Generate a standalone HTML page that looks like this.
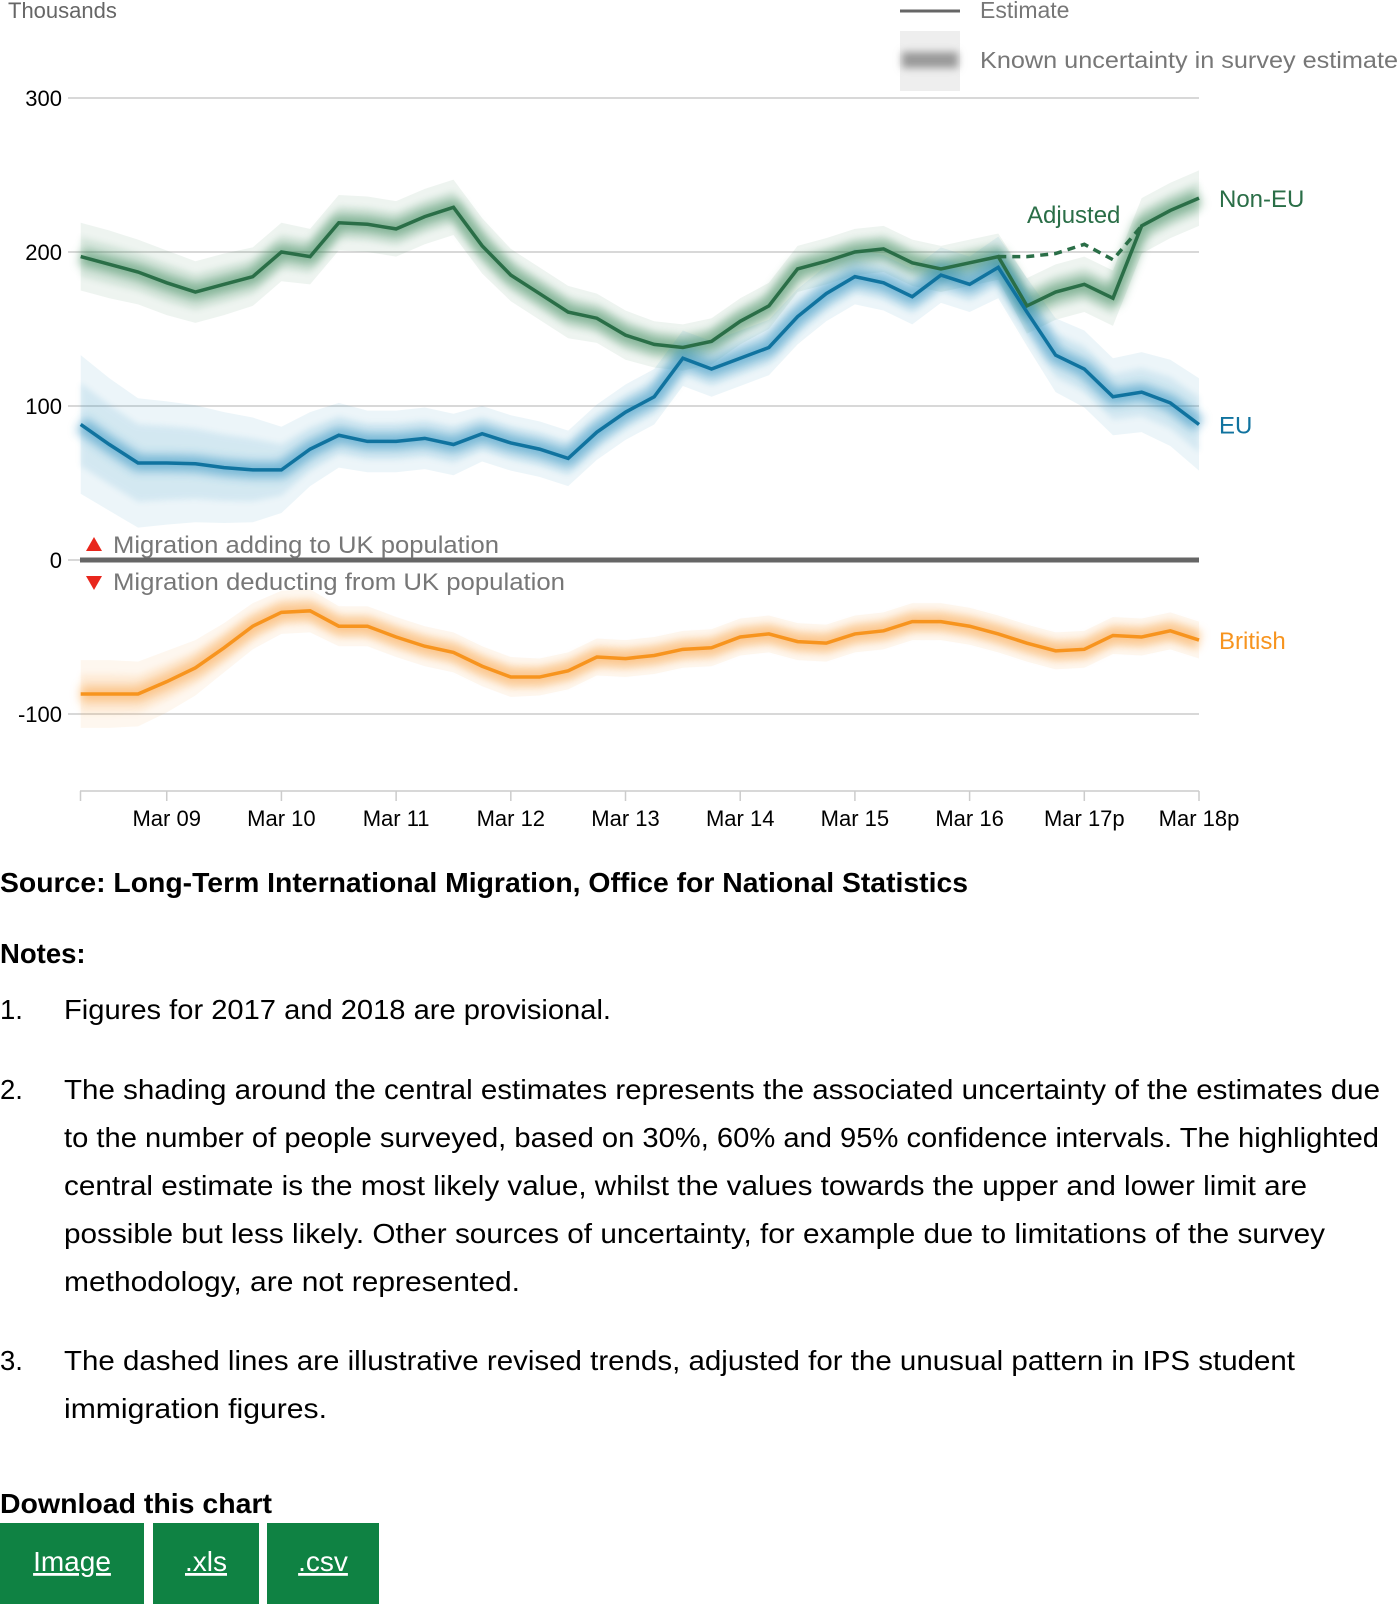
<!DOCTYPE html>
<html><head><meta charset="utf-8"><style>
html,body{margin:0;padding:0;background:#fff;}
svg{display:block;font-family:"Liberation Sans",Arial,sans-serif;}
</style></head><body>
<svg id="page" width="1400" height="1604" viewBox="0 0 1400 1604" xmlns="http://www.w3.org/2000/svg">
<defs>
<filter id="blur6" x="-5%" y="-20%" width="110%" height="140%"><feGaussianBlur stdDeviation="5"/></filter>
<filter id="blur3" x="-5%" y="-20%" width="110%" height="140%"><feGaussianBlur stdDeviation="3"/></filter>
<filter id="blurL" x="-30%" y="-80%" width="160%" height="260%"><feGaussianBlur stdDeviation="4"/></filter>
</defs>
<text x="8" y="18" font-size="22" fill="#666">Thousands</text>
<g>
  <line x1="900" y1="11" x2="960" y2="11" stroke="#666" stroke-width="3"/>
  <text x="980" y="18" font-size="23" fill="#777">Estimate</text>
  <rect x="900" y="31" width="60" height="60" fill="#eee"/>
  <rect x="902" y="52" width="56" height="16" fill="#999" filter="url(#blurL)"/>
  <text x="980" y="68" font-size="23" fill="#777" textLength="418" lengthAdjust="spacingAndGlyphs">Known uncertainty in survey estimate</text>
</g>
<g id="grid"></g>
<g id="bands"></g>
<g id="lines"></g>
<g id="axes"></g>
<g>
  <polygon points="86,551 102,551 94,537" fill="#e8261c"/>
  <text x="113" y="553" font-size="24" fill="#777" textLength="386" lengthAdjust="spacingAndGlyphs">Migration adding to UK population</text>
  <polygon points="86,576 102,576 94,590" fill="#e8261c"/>
  <text x="113" y="590" font-size="24" fill="#777" textLength="452" lengthAdjust="spacingAndGlyphs">Migration deducting from UK population</text>
</g>
<g font-size="27.5" fill="#000">
  <text x="0" y="892" font-weight="bold" textLength="968" lengthAdjust="spacingAndGlyphs">Source: Long-Term International Migration, Office for National Statistics</text>
  <text x="0" y="963" font-weight="bold">Notes:</text>
  <text x="0" y="1019">1.</text>
  <text x="64" y="1019" textLength="547" lengthAdjust="spacingAndGlyphs">Figures for 2017 and 2018 are provisional.</text>
  <text x="0" y="1099">2.</text>
  <g>
  <text x="64" y="1099" textLength="1316" lengthAdjust="spacingAndGlyphs">The shading around the central estimates represents the associated uncertainty of the estimates due</text>
  <text x="64" y="1147" textLength="1315" lengthAdjust="spacingAndGlyphs">to the number of people surveyed, based on 30%, 60% and 95% confidence intervals. The highlighted</text>
  <text x="64" y="1195" textLength="1243" lengthAdjust="spacingAndGlyphs">central estimate is the most likely value, whilst the values towards the upper and lower limit are</text>
  <text x="64" y="1243" textLength="1261" lengthAdjust="spacingAndGlyphs">possible but less likely. Other sources of uncertainty, for example due to limitations of the survey</text>
  <text x="64" y="1291" textLength="456" lengthAdjust="spacingAndGlyphs">methodology, are not represented.</text>
  </g>
  <text x="0" y="1370">3.</text>
  <g>
  <text x="64" y="1370" textLength="1231" lengthAdjust="spacingAndGlyphs">The dashed lines are illustrative revised trends, adjusted for the unusual pattern in IPS student</text>
  <text x="64" y="1418" textLength="263" lengthAdjust="spacingAndGlyphs">immigration figures.</text>
  </g>
  <text x="0" y="1513" font-weight="bold" textLength="272" lengthAdjust="spacingAndGlyphs">Download this chart</text>
</g>
<g>
  <rect x="0" y="1523" width="144" height="81" fill="#0f8243"/>
  <text x="72" y="1571" font-size="28" fill="#fff" text-anchor="middle" text-decoration="underline">Image</text>
</g>
<g>
  <rect x="153" y="1523" width="106" height="81" fill="#0f8243"/>
  <text x="206" y="1571" font-size="28" fill="#fff" text-anchor="middle" text-decoration="underline">.xls</text>
</g>
<g>
  <rect x="267" y="1523" width="112" height="81" fill="#0f8243"/>
  <text x="323" y="1571" font-size="28" fill="#fff" text-anchor="middle" text-decoration="underline">.csv</text>
</g>
</svg>
<script>
const yTicks = [300, 200, 100, 0, -100];
const xTickLabels = ["Mar 09","Mar 10","Mar 11","Mar 12","Mar 13","Mar 14","Mar 15","Mar 16","Mar 17p","Mar 18p"];
const nonEU = [197,192,187,180,174,179,184,200,197,219,218,215,223,229,204,185,173,161,157,146,140,138,142,155,165,189,194,200,202,193,189,193,197,165,174,179,170,217,227,235];
const nonEUAdjusted = [197,197,199,205,195,217];
const eu = [88,75,63,63,62.5,60,58.5,58.5,72,81,77,77,79,75,82,76,72,66,83,96,106,131,124,131,138,158,173,184,180,171,185,179,190,161,133,124,106,109,102,88];
const british = [-87,-87,-87,-79,-70,-57,-43,-34,-33,-43,-43,-50,-56,-60,-69,-76,-76,-72,-63,-64,-62,-58,-57,-50,-48,-53,-54,-48,-46,-40,-40,-43,-48,-54,-59,-58,-49,-50,-46,-52];
const ciNonEU = [22,22,21,21,20,20,19,19,18,18,18,18,18,18,18,17,17,17,16,16,15,15,15,15,15,15,15,15,15,15,15,15,15,18,18,18,18,18,18,18];
const ciEU = [45,43,42,40,38,36,34,28,24,21,20,20,20,20,18,18,18,18,18,18,18,18,18,18,18,18,18,18,18,18,18,18,20,22,24,25,25,26,28,30];
const ciBritish = [22,22,21,20,18,16,15,14,14,13,13,13,13,13,13,13,12,12,12,12,12,12,12,12,12,12,12,12,12,12,12,12,12,12,12,12,12,12,12,12];

const NS = "http://www.w3.org/2000/svg";
const x0 = 80.7, x1 = 1199, nPts = 40;
const xs = i => x0 + i * (x1 - x0) / (nPts - 1);
const ys = v => 560 - v * 1.54;
function mk(tag, attrs, parent){const e=document.createElementNS(NS,tag);for(const k in attrs)e.setAttribute(k,attrs[k]);parent.appendChild(e);return e;}
const grid=document.getElementById('grid'), bands=document.getElementById('bands'), lines=document.getElementById('lines'), axes=document.getElementById('axes');

yTicks.forEach(t=>{
  const l=mk('line',{x1:68,x2:1199,y1:ys(t),y2:ys(t),stroke:'#ccc','stroke-width':1.5},grid);
  
  
  const tx=mk('text',{x:62,y:ys(t)+8,'font-size':22,fill:'#000','text-anchor':'end'},grid);
  tx.textContent=String(t);
  
  
});

function pathOf(vals, offs, sign, start){return vals.map((v,i)=>[xs(i+(start||0)), ys(v+(offs?sign*offs[i]:0))]);}
function bandPath(vals, ci, f){
  const up=vals.map((v,i)=>xs(i)+','+ys(v+ci[i]*f));
  const dn=vals.map((v,i)=>xs(i)+','+ys(v-ci[i]*f)).reverse();
  return 'M'+up.join('L')+'L'+dn.join('L')+'Z';
}
function linePath(vals,start){return 'M'+vals.map((v,i)=>xs(i+(start||0))+','+ys(v)).join('L');}

const series=[
  {name:'non-eu',vals:nonEU,ci:ciNonEU,color:'#2a6e47',glow:'#3e8a5c'},
  {name:'eu',vals:eu,ci:ciEU,color:'#10739f',glow:'#2b8fbf'},
  {name:'british',vals:british,ci:ciBritish,color:'#f7941e',glow:'#f9a54a'}
];
series.forEach(s=>{
  const b95=mk('path',{d:bandPath(s.vals,s.ci,1),fill:s.glow,opacity:0.09},bands);
  
  
  const b60=mk('path',{d:bandPath(s.vals,s.ci,0.6),fill:s.glow,opacity:0.12,filter:'url(#blur3)'},bands);
  
  
  const g=mk('path',{d:linePath(s.vals),fill:'none',stroke:s.glow,'stroke-width':16,opacity:0.55,filter:'url(#blur6)','stroke-linejoin':'round'},bands);
  
  
});
series.forEach(s=>{
  const l=mk('path',{d:linePath(s.vals),fill:'none',stroke:s.color,'stroke-width':3.5,'stroke-linejoin':'miter'},lines);
  
  
});
const adj=mk('path',{d:linePath(nonEUAdjusted,32),fill:'none',stroke:'#2a6e47','stroke-width':3.5,'stroke-dasharray':'8,6'},lines);



const zl=mk('line',{x1:80,x2:1199,y1:ys(0),y2:ys(0),stroke:'#666','stroke-width':5},axes);


const ax=mk('line',{x1:80,x2:1199,y1:791,y2:791,stroke:'#ccc','stroke-width':1.5},axes);


[0].forEach(()=>{const e=mk('line',{x1:80.5,x2:80.5,y1:791,y2:801,stroke:'#ccc','stroke-width':1.5},axes);

});
xTickLabels.forEach((lab,k)=>{
  const x=xs(3+4*k);
  const t=mk('line',{x1:x,x2:x,y1:791,y2:801,stroke:'#ccc','stroke-width':1.5},axes);
  
  
  const tx=mk('text',{x:x,y:826,'font-size':22,fill:'#000','text-anchor':'middle'},axes);
  tx.textContent=lab;
  
  
});
const labs=[['Non-EU',nonEU,'#2a6e47'],['EU',eu,'#10739f'],['British',british,'#f7941e']];
labs.forEach(([n,v,c])=>{
  const tx=mk('text',{x:1219,y:ys(v[v.length-1])+9,'font-size':24,fill:c},axes);
  tx.textContent=n;
  
  
});
const at=mk('text',{x:1027,y:223,'font-size':24,fill:'#2a6e47'},axes);
at.textContent='Adjusted';


</script>
</body></html>
